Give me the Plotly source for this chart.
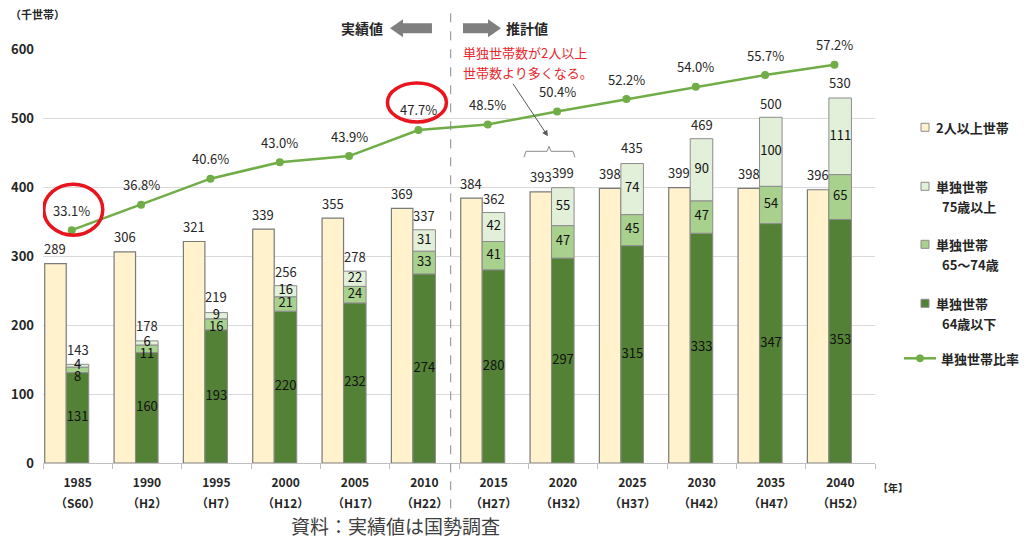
import plotly.graph_objects as go

FONT = "Noto Sans CJK JP"

years = ['1985', '1990', '1995', '2000', '2005', '2010', '2015', '2020', '2025', '2030', '2035', '2040']
eras = ['S60', 'H2', 'H7', 'H12', 'H17', 'H22', 'H27', 'H32', 'H37', 'H42', 'H47', 'H52']
multi = [289, 306, 321, 339, 355, 369, 384, 393, 398, 399, 398, 396]
single_u64 = [131, 160, 193, 220, 232, 274, 280, 297, 315, 333, 347, 353]
single_6574 = [8, 11, 16, 21, 24, 33, 41, 47, 45, 47, 54, 65]
single_75 = [4, 6, 9, 16, 22, 31, 42, 55, 74, 90, 100, 111]
single_total = [143, 178, 219, 256, 278, 337, 362, 399, 435, 469, 500, 530]
ratio = [33.1, 36.8, 40.6, 43.0, 43.9, 47.7, 48.5, 50.4, 52.2, 54.0, 55.7, 57.2]

C_MULTI = '#FFF2CC'
C_75 = '#E2F0D9'
C_6574 = '#A9D18E'
C_U64 = '#538135'
C_LINE = '#70AD47'
EDGE = '#8c8c8c'
TXT = '#262626'

x = list(range(len(years)))
x_line = [i - 0.085 for i in x]

# plot area in pixels (for decorations outside the data)
L, R, T, B = 43, 875, 48.7, 462.7
def px(p):
    return (p - L) / (R - L)
def py(p):
    return (B - p) / (B - T)

base_6574 = single_u64
base_75 = [a + b for a, b in zip(single_u64, single_6574)]

fig = go.Figure()
edge = dict(color=EDGE, width=1)
fig.add_trace(go.Bar(x=x, y=multi, offset=-0.475, width=0.31, marker=dict(color=C_MULTI, line=dict(color='#7a7a7a', width=1.2))))
fig.add_trace(go.Bar(x=x, y=single_u64, offset=-0.165, width=0.325, marker=dict(color=C_U64, line=edge)))
fig.add_trace(go.Bar(x=x, y=single_6574, base=base_6574, offset=-0.165, width=0.325, marker=dict(color=C_6574, line=edge)))
fig.add_trace(go.Bar(x=x, y=single_75, base=base_75, offset=-0.165, width=0.325, marker=dict(color=C_75, line=edge)))

fig.add_trace(go.Scatter(x=x_line, y=ratio, yaxis='y2', mode='lines+markers',
                         line=dict(color=C_LINE, width=2.5), marker=dict(color=C_LINE, size=8)))

# labels inside single-household stacks
mid_u64 = [v / 2 for v in single_u64]
mid_75 = [b + v / 2 for b, v in zip(base_75, single_75)]
mid_6574 = [min(b + v / 2, m - 17) for b, v, m in zip(base_6574, single_6574, mid_75)]
for mids, vals in [(mid_u64, single_u64), (mid_6574, single_6574), (mid_75, single_75)]:
    fig.add_trace(go.Scatter(x=x, y=mids, mode='text', text=[str(v) for v in vals],
                             textfont=dict(family=FONT, size=13, color='#111111'), hoverinfo='skip'))

# totals above bars
for i in x:
    fig.add_annotation(x=i - 0.32, y=multi[i], text=str(multi[i]), showarrow=False, yshift=15,
                       font=dict(family=FONT, size=13, color=TXT))
    fig.add_annotation(x=i, y=single_total[i], text=str(single_total[i]), showarrow=False, yshift=15,
                       font=dict(family=FONT, size=13, color=TXT))
    fig.add_annotation(x=x_line[i], y=ratio[i], yref='y2', text=f'{ratio[i]:.1f}%', showarrow=False,
                       yshift=20, font=dict(family=FONT, size=13, color=TXT))

# era labels under the year ticks
for i in x:
    fig.add_annotation(x=i, xref='x', yref='paper', y=py(502), yanchor='middle', text=f'（{eras[i]}）',
                       showarrow=False, font=dict(family=FONT, size=12, color=TXT, weight='bold'))

# red circles around highlighted ratios
for i, (x0, x1, y0, y1) in [(0, (-28, 31, -5, 46)), (5, (-31, 28, 8, 47))]:
    fig.add_shape(type='circle', xref='x', yref='y2', xsizemode='pixel', ysizemode='pixel',
                  xanchor=x_line[i], yanchor=ratio[i], x0=x0, x1=x1, y0=y0, y1=y1,
                  line=dict(color='#E8141E', width=3.5))

# dashed divider between actual and estimated
fig.add_shape(type='line', xref='paper', yref='paper', x0=px(450.7), x1=px(450.7), y0=py(13), y1=py(517),
              line=dict(color='#8a8a8a', width=1, dash='dash'))

# top arrows
def arrow_path(tail, tip, yc):
    d = 1 if tip > tail else -1
    hb = tip - d * 13
    pts = [(tail, yc - 5), (hb, yc - 5), (hb, yc - 9), (tip, yc), (hb, yc + 9), (hb, yc + 5), (tail, yc + 5)]
    return 'M ' + ' L '.join(f'{px(a):.4f},{py(b):.4f}' for a, b in pts) + ' Z'
fig.add_shape(type='path', xref='paper', yref='paper', path=arrow_path(432, 390, 28),
              fillcolor='#7f7f7f', line=dict(width=0))
fig.add_shape(type='path', xref='paper', yref='paper', path=arrow_path(463, 501, 28),
              fillcolor='#7f7f7f', line=dict(width=0))

def note(xp, yp, text, font, xanchor='left'):
    fig.add_annotation(xref='paper', yref='paper', x=px(xp), y=py(yp), xanchor=xanchor, yanchor='middle',
                       text=text, showarrow=False, font=font)

bold14 = dict(family=FONT, size=14, color=TXT, weight='bold')
note(385, 28, '実績値', bold14, 'right')
note(504, 28, '推計値', bold14)

# red note with arrow and brace
red = dict(family=FONT, size=13, color='#E8262C')
note(461, 52, '単独世帯数が2人以上', red)
note(461, 72, '世帯数より多くなる。', red)
fig.add_annotation(xref='paper', yref='paper', x=px(548), y=py(136), ax=-36, ay=-54, text='',
                   showarrow=True, arrowhead=2, arrowsize=1.2, arrowwidth=1, arrowcolor='#595959')
brace = [(524, 157), (526, 151), (547, 151), (549, 146), (551, 151), (573, 151), (575, 157)]
fig.add_shape(type='path', xref='paper', yref='paper',
              path='M ' + ' L '.join(f'{px(a):.4f},{py(b):.4f}' for a, b in brace),
              line=dict(color='#8c8c8c', width=1))

# legend
legend_items = [(127, C_MULTI, '2人以上世帯', None),
                (186, C_75, '単独世帯', '75歳以上'),
                (244, C_6574, '単独世帯', '65～74歳'),
                (303, C_U64, '単独世帯', '64歳以下')]
lfont = dict(family=FONT, size=13, color=TXT, weight='bold')
for yy, col, t1, t2 in legend_items:
    fig.add_shape(type='rect', xref='paper', yref='paper', x0=px(921), x1=px(929), y0=py(yy + 4), y1=py(yy - 4),
                  fillcolor=col, line=dict(color=EDGE, width=1))
    note(934, yy, t1, lfont)
    if t2:
        note(940, yy + 20, t2, lfont)
fig.add_shape(type='line', xref='paper', yref='paper', x0=px(904), x1=px(936), y0=py(358), y1=py(358),
              line=dict(color=C_LINE, width=2.5))
fig.add_shape(type='circle', xref='paper', yref='paper', x0=px(916.5), x1=px(923.5), y0=py(361.5), y1=py(354.5),
              fillcolor=C_LINE, line=dict(color=C_LINE, width=1))
note(939, 358, '単独世帯比率', lfont)

# units and source
note(8, 14, '（千世帯）', dict(family=FONT, size=11, color=TXT, weight='bold'))
note(876, 487, '【年】', dict(family=FONT, size=10, color=TXT, weight='bold'))
note(395, 525, '資料：実績値は国勢調査', dict(family=FONT, size=19, color='#404040'), 'center')

fig.update_layout(width=1030, height=540, margin=dict(l=L, r=1030 - R, t=T, b=540 - B),
                  plot_bgcolor='white', paper_bgcolor='white', showlegend=False, barmode='overlay',
                  font=dict(family=FONT, size=13, color=TXT),
                  yaxis=dict(range=[0, 600], dtick=100, gridcolor='#d9d9d9', zeroline=False,
                             tickfont=dict(family=FONT, size=13, color=TXT, weight='bold'),
                             ticklabelstandoff=8),
                  yaxis2=dict(overlaying='y', range=[-0.83, 59.5], visible=False))
fig.update_xaxes(range=[-0.5, len(years) - 0.5], tickvals=x, ticktext=years,
                 tickfont=dict(family=FONT, size=12, color=TXT, weight='bold'),
                 ticks='', showgrid=False, zeroline=False, showline=True, linecolor='#bfbfbf',
                 ticklabelstandoff=9,
                 minor=dict(tickvals=[i - 0.5 for i in range(len(years) + 1)], ticks='outside',
                            ticklen=5, tickcolor='#bfbfbf', showgrid=False))

fig.write_html("out.html", config={'displayModeBar': False},
               post_script="document.body.style.margin='0';document.body.style.padding='0';")
